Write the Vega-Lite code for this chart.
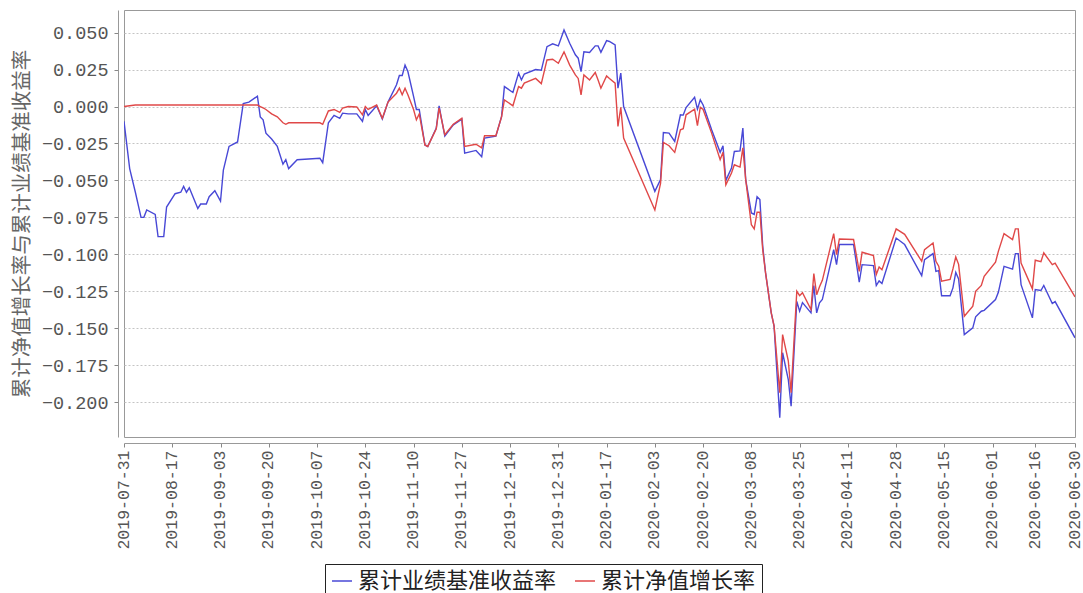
{
  "$schema": "https://vega.github.io/schema/vega-lite/v6.json",
  "width": 951,
  "height": 427,
  "autosize": {"type": "none"},
  "padding": {"left": 124, "top": 10, "right": 8, "bottom": 156},
  "background": "white",
  "config": {"view": {"stroke": "#999999", "strokeWidth": 1}},
  "data": {"values": [
    {"date": "2019-07-31", "benchmark": -0.010, "nav": 0.000},
    {"date": "2019-08-02", "benchmark": -0.042, "nav": 0.0005},
    {"date": "2019-08-04", "benchmark": -0.058, "nav": 0.001},
    {"date": "2019-08-06", "benchmark": -0.075, "nav": 0.001},
    {"date": "2019-08-07", "benchmark": -0.075, "nav": 0.001},
    {"date": "2019-08-08", "benchmark": -0.070, "nav": 0.001},
    {"date": "2019-08-11", "benchmark": -0.073, "nav": 0.001},
    {"date": "2019-08-12", "benchmark": -0.088, "nav": 0.001},
    {"date": "2019-08-14", "benchmark": -0.088, "nav": 0.001},
    {"date": "2019-08-15", "benchmark": -0.068, "nav": 0.001},
    {"date": "2019-08-18", "benchmark": -0.059, "nav": 0.001},
    {"date": "2019-08-20", "benchmark": -0.058, "nav": 0.001},
    {"date": "2019-08-21", "benchmark": -0.054, "nav": 0.001},
    {"date": "2019-08-22", "benchmark": -0.058, "nav": 0.001},
    {"date": "2019-08-23", "benchmark": -0.055, "nav": 0.001},
    {"date": "2019-08-26", "benchmark": -0.069, "nav": 0.001},
    {"date": "2019-08-27", "benchmark": -0.066, "nav": 0.001},
    {"date": "2019-08-29", "benchmark": -0.066, "nav": 0.001},
    {"date": "2019-08-30", "benchmark": -0.061, "nav": 0.001},
    {"date": "2019-09-01", "benchmark": -0.057, "nav": 0.001},
    {"date": "2019-09-03", "benchmark": -0.064, "nav": 0.001},
    {"date": "2019-09-04", "benchmark": -0.043, "nav": 0.001},
    {"date": "2019-09-06", "benchmark": -0.027, "nav": 0.001},
    {"date": "2019-09-09", "benchmark": -0.024, "nav": 0.001},
    {"date": "2019-09-11", "benchmark": 0.002, "nav": 0.001},
    {"date": "2019-09-13", "benchmark": 0.003, "nav": 0.001},
    {"date": "2019-09-16", "benchmark": 0.007, "nav": 0.001},
    {"date": "2019-09-17", "benchmark": -0.007, "nav": 0.000},
    {"date": "2019-09-18", "benchmark": -0.009, "nav": -0.001},
    {"date": "2019-09-19", "benchmark": -0.018, "nav": -0.002},
    {"date": "2019-09-21", "benchmark": -0.022, "nav": -0.005},
    {"date": "2019-09-23", "benchmark": -0.027, "nav": -0.007},
    {"date": "2019-09-25", "benchmark": -0.039, "nav": -0.011},
    {"date": "2019-09-26", "benchmark": -0.036, "nav": -0.012},
    {"date": "2019-09-27", "benchmark": -0.042, "nav": -0.011},
    {"date": "2019-09-30", "benchmark": -0.036, "nav": -0.011},
    {"date": "2019-10-08", "benchmark": -0.035, "nav": -0.011},
    {"date": "2019-10-09", "benchmark": -0.038, "nav": -0.012},
    {"date": "2019-10-11", "benchmark": -0.011, "nav": -0.003},
    {"date": "2019-10-13", "benchmark": -0.006, "nav": -0.002},
    {"date": "2019-10-15", "benchmark": -0.008, "nav": -0.004},
    {"date": "2019-10-16", "benchmark": -0.0045, "nav": -0.001},
    {"date": "2019-10-18", "benchmark": -0.005, "nav": 0.000},
    {"date": "2019-10-21", "benchmark": -0.005, "nav": -0.0003},
    {"date": "2019-10-23", "benchmark": -0.010, "nav": -0.0056},
    {"date": "2019-10-24", "benchmark": -0.002, "nav": 0.000},
    {"date": "2019-10-25", "benchmark": -0.006, "nav": -0.002},
    {"date": "2019-10-28", "benchmark": 0.0005, "nav": 0.001},
    {"date": "2019-10-30", "benchmark": -0.0085, "nav": -0.008},
    {"date": "2019-11-01", "benchmark": 0.003, "nav": 0.003},
    {"date": "2019-11-04", "benchmark": 0.0147, "nav": 0.009},
    {"date": "2019-11-05", "benchmark": 0.021, "nav": 0.0124},
    {"date": "2019-11-06", "benchmark": 0.021, "nav": 0.008},
    {"date": "2019-11-07", "benchmark": 0.028, "nav": 0.0124},
    {"date": "2019-11-08", "benchmark": 0.0237, "nav": 0.008},
    {"date": "2019-11-10", "benchmark": 0.0068, "nav": -0.002},
    {"date": "2019-11-11", "benchmark": -0.002, "nav": -0.009},
    {"date": "2019-11-12", "benchmark": -0.002, "nav": -0.005},
    {"date": "2019-11-14", "benchmark": -0.026, "nav": -0.026},
    {"date": "2019-11-15", "benchmark": -0.027, "nav": -0.027},
    {"date": "2019-11-18", "benchmark": -0.0146, "nav": -0.015},
    {"date": "2019-11-19", "benchmark": 0.0005, "nav": -0.001},
    {"date": "2019-11-21", "benchmark": -0.020, "nav": -0.019},
    {"date": "2019-11-24", "benchmark": -0.0124, "nav": -0.012},
    {"date": "2019-11-27", "benchmark": -0.0085, "nav": -0.008},
    {"date": "2019-11-28", "benchmark": -0.0315, "nav": -0.027},
    {"date": "2019-12-02", "benchmark": -0.0297, "nav": -0.0255},
    {"date": "2019-12-04", "benchmark": -0.034, "nav": -0.028},
    {"date": "2019-12-05", "benchmark": -0.0214, "nav": -0.0198},
    {"date": "2019-12-09", "benchmark": -0.020, "nav": -0.0198},
    {"date": "2019-12-11", "benchmark": -0.0068, "nav": -0.007},
    {"date": "2019-12-12", "benchmark": 0.0135, "nav": 0.0045},
    {"date": "2019-12-15", "benchmark": 0.0095, "nav": 0.0005},
    {"date": "2019-12-17", "benchmark": 0.0226, "nav": 0.0135},
    {"date": "2019-12-18", "benchmark": 0.018, "nav": 0.0124},
    {"date": "2019-12-19", "benchmark": 0.022, "nav": 0.0158},
    {"date": "2019-12-23", "benchmark": 0.025, "nav": 0.019},
    {"date": "2019-12-25", "benchmark": 0.0245, "nav": 0.0155},
    {"date": "2019-12-27", "benchmark": 0.0405, "nav": 0.0315},
    {"date": "2019-12-29", "benchmark": 0.0424, "nav": 0.032},
    {"date": "2019-12-31", "benchmark": 0.041, "nav": 0.0293},
    {"date": "2020-01-02", "benchmark": 0.0518, "nav": 0.037},
    {"date": "2020-01-04", "benchmark": 0.0428, "nav": 0.028},
    {"date": "2020-01-06", "benchmark": 0.035, "nav": 0.0214},
    {"date": "2020-01-07", "benchmark": 0.0327, "nav": 0.019},
    {"date": "2020-01-08", "benchmark": 0.0236, "nav": 0.0079},
    {"date": "2020-01-09", "benchmark": 0.037, "nav": 0.0214},
    {"date": "2020-01-11", "benchmark": 0.0365, "nav": 0.018},
    {"date": "2020-01-13", "benchmark": 0.041, "nav": 0.023},
    {"date": "2020-01-14", "benchmark": 0.041, "nav": 0.018},
    {"date": "2020-01-15", "benchmark": 0.0367, "nav": 0.0124},
    {"date": "2020-01-17", "benchmark": 0.0446, "nav": 0.0207},
    {"date": "2020-01-18", "benchmark": 0.044, "nav": 0.019},
    {"date": "2020-01-20", "benchmark": 0.0417, "nav": 0.0158},
    {"date": "2020-01-21", "benchmark": 0.0124, "nav": -0.0135},
    {"date": "2020-01-22", "benchmark": 0.0226, "nav": -0.0005},
    {"date": "2020-01-23", "benchmark": 0.000, "nav": -0.0214},
    {"date": "2020-02-03", "benchmark": -0.0574, "nav": -0.070},
    {"date": "2020-02-05", "benchmark": -0.0495, "nav": -0.052},
    {"date": "2020-02-06", "benchmark": -0.0176, "nav": -0.0243},
    {"date": "2020-02-08", "benchmark": -0.018, "nav": -0.0265},
    {"date": "2020-02-10", "benchmark": -0.0236, "nav": -0.031},
    {"date": "2020-02-12", "benchmark": -0.0056, "nav": -0.0157},
    {"date": "2020-02-13", "benchmark": -0.0058, "nav": -0.015},
    {"date": "2020-02-14", "benchmark": -0.0007, "nav": -0.0056},
    {"date": "2020-02-17", "benchmark": 0.0063, "nav": -0.0018},
    {"date": "2020-02-18", "benchmark": -0.0018, "nav": -0.013},
    {"date": "2020-02-19", "benchmark": 0.0045, "nav": -0.0005},
    {"date": "2020-02-20", "benchmark": 0.001, "nav": -0.002},
    {"date": "2020-02-23", "benchmark": -0.0157, "nav": -0.018},
    {"date": "2020-02-26", "benchmark": -0.031, "nav": -0.036},
    {"date": "2020-02-27", "benchmark": -0.0266, "nav": -0.031},
    {"date": "2020-02-28", "benchmark": -0.050, "nav": -0.053},
    {"date": "2020-03-01", "benchmark": -0.0416, "nav": -0.045},
    {"date": "2020-03-02", "benchmark": -0.0304, "nav": -0.0394},
    {"date": "2020-03-04", "benchmark": -0.030, "nav": -0.041},
    {"date": "2020-03-05", "benchmark": -0.0146, "nav": -0.028},
    {"date": "2020-03-06", "benchmark": -0.0495, "nav": -0.0495},
    {"date": "2020-03-08", "benchmark": -0.072, "nav": -0.080},
    {"date": "2020-03-09", "benchmark": -0.073, "nav": -0.0828},
    {"date": "2020-03-10", "benchmark": -0.061, "nav": -0.0715},
    {"date": "2020-03-11", "benchmark": -0.063, "nav": -0.0715},
    {"date": "2020-03-12", "benchmark": -0.0946, "nav": -0.097},
    {"date": "2020-03-13", "benchmark": -0.1126, "nav": -0.1126},
    {"date": "2020-03-15", "benchmark": -0.1396, "nav": -0.1396},
    {"date": "2020-03-16", "benchmark": -0.1486, "nav": -0.1486},
    {"date": "2020-03-18", "benchmark": -0.2105, "nav": -0.1936},
    {"date": "2020-03-19", "benchmark": -0.1666, "nav": -0.1543},
    {"date": "2020-03-21", "benchmark": -0.1847, "nav": -0.172},
    {"date": "2020-03-22", "benchmark": -0.2027, "nav": -0.1936},
    {"date": "2020-03-24", "benchmark": -0.1318, "nav": -0.125},
    {"date": "2020-03-25", "benchmark": -0.1385, "nav": -0.128},
    {"date": "2020-03-26", "benchmark": -0.1327, "nav": -0.126},
    {"date": "2020-03-29", "benchmark": -0.1396, "nav": -0.1373},
    {"date": "2020-03-30", "benchmark": -0.1211, "nav": -0.113},
    {"date": "2020-03-31", "benchmark": -0.1396, "nav": -0.1273},
    {"date": "2020-04-01", "benchmark": -0.1328, "nav": -0.122},
    {"date": "2020-04-02", "benchmark": -0.1306, "nav": -0.1176},
    {"date": "2020-04-06", "benchmark": -0.0968, "nav": -0.086},
    {"date": "2020-04-07", "benchmark": -0.107, "nav": -0.1002},
    {"date": "2020-04-08", "benchmark": -0.0934, "nav": -0.0896},
    {"date": "2020-04-13", "benchmark": -0.0934, "nav": -0.090},
    {"date": "2020-04-15", "benchmark": -0.1189, "nav": -0.1115},
    {"date": "2020-04-16", "benchmark": -0.107, "nav": -0.0986},
    {"date": "2020-04-20", "benchmark": -0.1076, "nav": -0.1009},
    {"date": "2020-04-21", "benchmark": -0.1211, "nav": -0.1137},
    {"date": "2020-04-22", "benchmark": -0.118, "nav": -0.1086},
    {"date": "2020-04-23", "benchmark": -0.1198, "nav": -0.1104},
    {"date": "2020-04-28", "benchmark": -0.089, "nav": -0.0828},
    {"date": "2020-05-01", "benchmark": -0.0934, "nav": -0.0865},
    {"date": "2020-05-07", "benchmark": -0.1144, "nav": -0.1047},
    {"date": "2020-05-08", "benchmark": -0.1036, "nav": -0.0968},
    {"date": "2020-05-11", "benchmark": -0.0995, "nav": -0.0923},
    {"date": "2020-05-12", "benchmark": -0.1115, "nav": -0.1047},
    {"date": "2020-05-13", "benchmark": -0.111, "nav": -0.108},
    {"date": "2020-05-14", "benchmark": -0.128, "nav": -0.1182},
    {"date": "2020-05-17", "benchmark": -0.128, "nav": -0.117},
    {"date": "2020-05-18", "benchmark": -0.1227, "nav": -0.1099},
    {"date": "2020-05-19", "benchmark": -0.1122, "nav": -0.1018},
    {"date": "2020-05-20", "benchmark": -0.1166, "nav": -0.1068},
    {"date": "2020-05-22", "benchmark": -0.1543, "nav": -0.1419},
    {"date": "2020-05-25", "benchmark": -0.1498, "nav": -0.1351},
    {"date": "2020-05-26", "benchmark": -0.1423, "nav": -0.125},
    {"date": "2020-05-28", "benchmark": -0.1385, "nav": -0.1211},
    {"date": "2020-05-29", "benchmark": -0.1379, "nav": -0.1149},
    {"date": "2020-06-02", "benchmark": -0.1306, "nav": -0.1054},
    {"date": "2020-06-03", "benchmark": -0.1257, "nav": -0.098},
    {"date": "2020-06-05", "benchmark": -0.1081, "nav": -0.086},
    {"date": "2020-06-08", "benchmark": -0.110, "nav": -0.090},
    {"date": "2020-06-09", "benchmark": -0.0995, "nav": -0.0828},
    {"date": "2020-06-10", "benchmark": -0.0995, "nav": -0.0828},
    {"date": "2020-06-11", "benchmark": -0.1205, "nav": -0.1059},
    {"date": "2020-06-15", "benchmark": -0.143, "nav": -0.1234},
    {"date": "2020-06-16", "benchmark": -0.1239, "nav": -0.104},
    {"date": "2020-06-18", "benchmark": -0.1245, "nav": -0.105},
    {"date": "2020-06-19", "benchmark": -0.1211, "nav": -0.099},
    {"date": "2020-06-22", "benchmark": -0.1333, "nav": -0.107},
    {"date": "2020-06-23", "benchmark": -0.132, "nav": -0.106},
    {"date": "2020-06-30", "benchmark": -0.1565, "nav": -0.1288}
  ]},
  "transform": [{"fold": ["benchmark", "nav"], "as": ["series", "value"]}],
  "mark": {"type": "line", "strokeWidth": 1.4, "clip": true},
  "encoding": {
    "x": {
      "field": "date",
      "type": "temporal",
      "scale": {
        "type": "utc",
        "domain": [
          {"year": 2019, "month": 7, "date": 31, "utc": true},
          {"year": 2020, "month": 6, "date": 30, "utc": true}
        ]
      },
      "axis": {
        "title": null,
        "values": [
          {"year": 2019, "month": 7, "date": 31, "utc": true},
          {"year": 2019, "month": 8, "date": 17, "utc": true},
          {"year": 2019, "month": 9, "date": 3, "utc": true},
          {"year": 2019, "month": 9, "date": 20, "utc": true},
          {"year": 2019, "month": 10, "date": 7, "utc": true},
          {"year": 2019, "month": 10, "date": 24, "utc": true},
          {"year": 2019, "month": 11, "date": 10, "utc": true},
          {"year": 2019, "month": 11, "date": 27, "utc": true},
          {"year": 2019, "month": 12, "date": 14, "utc": true},
          {"year": 2019, "month": 12, "date": 31, "utc": true},
          {"year": 2020, "month": 1, "date": 17, "utc": true},
          {"year": 2020, "month": 2, "date": 3, "utc": true},
          {"year": 2020, "month": 2, "date": 20, "utc": true},
          {"year": 2020, "month": 3, "date": 8, "utc": true},
          {"year": 2020, "month": 3, "date": 25, "utc": true},
          {"year": 2020, "month": 4, "date": 11, "utc": true},
          {"year": 2020, "month": 4, "date": 28, "utc": true},
          {"year": 2020, "month": 5, "date": 15, "utc": true},
          {"year": 2020, "month": 6, "date": 1, "utc": true},
          {"year": 2020, "month": 6, "date": 16, "utc": true},
          {"year": 2020, "month": 6, "date": 30, "utc": true}
        ],
        "format": "%Y-%m-%d",
        "labelAngle": -90,
        "labelAlign": "right",
        "labelBaseline": "middle",
        "labelFont": "Liberation Mono",
        "labelFontSize": 16.5,
        "labelColor": "#555555",
        "labelPadding": 3,
        "labelOffset": -1,
        "labelOverlap": false,
        "labelFlush": false,
        "labelBound": false,
        "offset": 6,
        "tickSize": 4,
        "tickColor": "#888888",
        "domainColor": "#999999",
        "grid": false
      }
    },
    "y": {
      "field": "value",
      "type": "quantitative",
      "scale": {"domain": [-0.2236, 0.0653], "nice": false, "zero": false},
      "axis": {
        "title": "累计净值增长率与累计业绩基准收益率",
        "titleFont": "Noto Sans CJK SC",
        "titleFontSize": 20.5,
        "titleFontWeight": "normal",
        "titleColor": "#666666",
        "titlePadding": 9,
        "values": [-0.2, -0.175, -0.15, -0.125, -0.1, -0.075, -0.05, -0.025, 0, 0.025, 0.05],
        "format": ".3f",
        "labelFont": "Liberation Mono",
        "labelFontSize": 18.5,
        "labelColor": "#555555",
        "labelPadding": 6,
        "offset": 6,
        "tickSize": 4,
        "tickColor": "#888888",
        "domainColor": "#999999",
        "grid": true,
        "gridColor": "#c4c4c4",
        "gridDash": [2, 2],
        "gridWidth": 1
      }
    },
    "color": {
      "field": "series",
      "type": "nominal",
      "scale": {"domain": ["benchmark", "nav"], "range": ["#4848d6", "#e04848"]},
      "legend": {
        "title": null,
        "orient": "none",
        "legendX": 201,
        "legendY": 554,
        "direction": "horizontal",
        "labelExpr": "datum.label == 'benchmark' ? '累计业绩基准收益率' : '累计净值增长率'",
        "labelFont": "Noto Sans CJK SC",
        "labelFontSize": 22,
        "labelColor": "#222222",
        "labelLimit": 500,
        "labelOffset": 5,
        "columnPadding": 15,
        "symbolType": "stroke",
        "symbolSize": 400,
        "symbolStrokeWidth": 1.5,
        "strokeColor": "#222222",
        "fillColor": "white",
        "padding": 6
      }
    }
  }
}
